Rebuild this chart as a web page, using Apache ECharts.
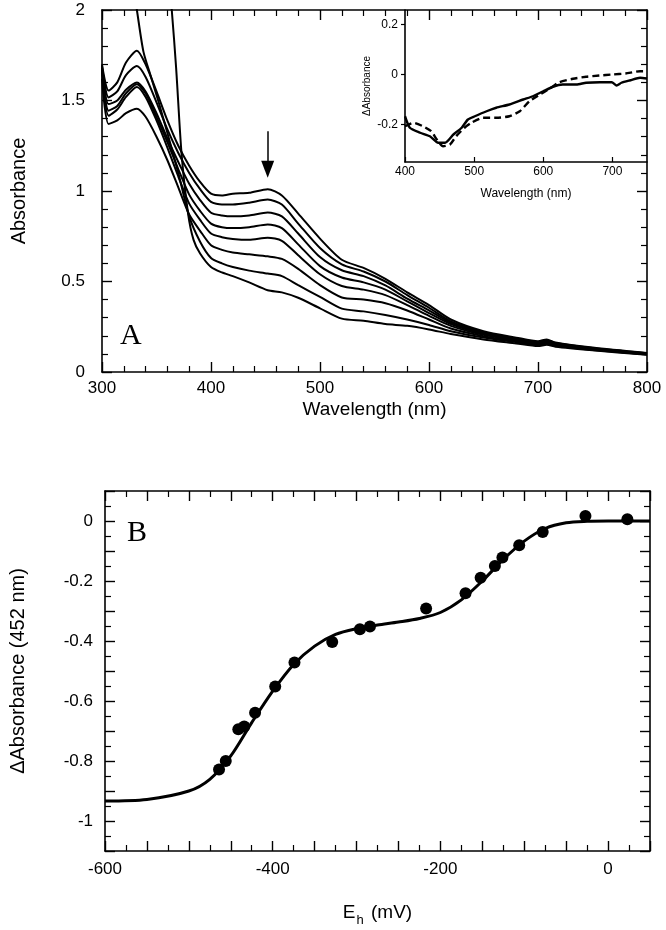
<!DOCTYPE html>
<html><head><meta charset="utf-8">
<script src="https://cdn.jsdelivr.net/npm/echarts@6/dist/echarts.min.js"></script>
<style>html,body{margin:0;padding:0;background:#fff}#c{width:666px;height:930px}</style>
</head><body><div id="c"></div>
<script>
// ---------- Panel A: spectra ----------
const W = [300,306,314,322,332,340,350,360,370,380,390,400,410,420,435,452,465,480,500,520,540,560,580,600,620,650,680,700,708,716,750,800];
const C1 = [1.70,1.555,1.60,1.71,1.775,1.70,1.55,1.39,1.25,1.14,1.05,0.985,0.975,0.985,0.99,1.01,0.975,0.875,0.737,0.62,0.575,0.515,0.44,0.37,0.29,0.225,0.19,0.17,0.18,0.163,0.135,0.105];
const C2 = [1.69,1.517,1.55,1.64,1.69,1.63,1.49,1.34,1.21,1.10,1.01,0.94,0.925,0.925,0.935,0.953,0.925,0.82,0.685,0.595,0.555,0.50,0.425,0.355,0.28,0.22,0.185,0.165,0.175,0.16,0.132,0.103];
const C3 = [1.68,1.48,1.50,1.56,1.60,1.55,1.43,1.29,1.16,1.04,0.95,0.88,0.865,0.86,0.865,0.881,0.86,0.765,0.635,0.562,0.53,0.478,0.405,0.34,0.272,0.215,0.182,0.163,0.172,0.158,0.13,0.102];
const C4 = [1.67,1.444,1.47,1.54,1.59,1.54,1.41,1.27,1.12,0.98,0.89,0.82,0.80,0.795,0.80,0.815,0.795,0.705,0.585,0.522,0.495,0.455,0.39,0.325,0.265,0.21,0.178,0.16,0.168,0.155,0.128,0.1];
const C5 = [1.66,1.416,1.45,1.52,1.575,1.52,1.39,1.24,1.08,0.93,0.84,0.765,0.745,0.735,0.73,0.742,0.725,0.645,0.54,0.475,0.455,0.425,0.37,0.31,0.255,0.205,0.175,0.157,0.165,0.152,0.126,0.099];
const C6 = [1.62,1.37,1.39,1.43,1.455,1.41,1.30,1.17,1.02,0.87,0.78,0.70,0.675,0.66,0.65,0.639,0.625,0.57,0.48,0.412,0.40,0.38,0.34,0.29,0.24,0.198,0.17,0.153,0.16,0.149,0.124,0.098];
const W7 = [328,332,338,345,352,360,370,380,390,400,410,420,435,452,465,480,500,520,540,560,580,600,620,650,680,700,708,716,750,800];
const C7 = [2.15,2.0,1.77,1.63,1.49,1.32,1.10,0.86,0.72,0.63,0.60,0.58,0.56,0.544,0.53,0.48,0.415,0.35,0.335,0.315,0.29,0.26,0.225,0.19,0.165,0.148,0.155,0.145,0.122,0.097];
const W8 = [362,364,368,373,379,384,390,400,410,420,435,452,465,480,500,520,540,560,580,600,620,650,680,700,708,716,750,800];
const C8 = [2.1,2.0,1.68,1.205,0.874,0.73,0.655,0.58,0.55,0.53,0.495,0.452,0.44,0.41,0.352,0.295,0.283,0.265,0.255,0.235,0.21,0.18,0.158,0.143,0.15,0.14,0.12,0.095];
const ARROW_NM = 452, ARROW_FROM = 1.33, ARROW_TO = 1.12;

// ---------- Inset: difference spectra ----------
const IW_SOLID = [400,407,422,436,448,458,470,482,491,501,518,532,551,571,585,600,614,628,648,662,682,699,706,713,726,740,750];
const I_SOLID = [-0.167,-0.213,-0.233,-0.247,-0.273,-0.273,-0.24,-0.213,-0.18,-0.167,-0.147,-0.133,-0.12,-0.10,-0.087,-0.067,-0.049,-0.04,-0.04,-0.033,-0.031,-0.031,-0.044,-0.033,-0.023,-0.013,-0.016];
const IW_DASH = [400,412,426,438,446,455,465,474,486,496,513,532,551,566,580,595,609,623,643,662,681,700,719,740,750];
const I_DASH = [-0.207,-0.193,-0.207,-0.227,-0.26,-0.287,-0.28,-0.247,-0.213,-0.193,-0.173,-0.173,-0.167,-0.147,-0.107,-0.08,-0.057,-0.031,-0.017,-0.009,-0.004,0,0.004,0.013,0.013];
const INSET_X_TICKS = [400,500,600,700];
const INSET_Y_TICKS = [-0.2,0,0.2];

// ---------- Panel B: titration ----------
const PT_E = [-464,-456,-441,-434,-421,-397,-374,-329,-296,-284,-217,-170,-152,-135,-126,-106,-78,-27,23];
const PT_A = [-0.828,-0.80,-0.694,-0.685,-0.639,-0.552,-0.472,-0.403,-0.361,-0.352,-0.292,-0.241,-0.189,-0.150,-0.122,-0.081,-0.037,0.017,0.006];
const FIT_E = [-600,-550,-500,-475,-450,-425,-400,-375,-350,-325,-300,-275,-250,-225,-200,-175,-150,-125,-100,-75,-50,-25,0,50];
const FIT_A = [-0.933,-0.928,-0.90,-0.861,-0.783,-0.672,-0.567,-0.478,-0.417,-0.378,-0.359,-0.347,-0.337,-0.325,-0.305,-0.263,-0.20,-0.128,-0.067,-0.025,-0.006,-0.001,0,0];

// ---------- build ----------
const FONT = '"Liberation Sans", Arial, Helvetica, sans-serif';
const K = '#000';
const pairs = (xs, ys) => xs.map((x, i) => [x, ys[i]]);
const line = {show: true, onZero: false, lineStyle: {color: K, width: 1.6}};
const tick = (len) => ({show: true, inside: true, length: len, lineStyle: {color: K, width: 1.4}});
const minor = (n, len) => ({show: true, splitNumber: n, length: len, lineStyle: {color: K, width: 1.2}});
const noSplit = {show: false};
const lbl = (o) => Object.assign({color: K, fontSize: 17, fontFamily: FONT}, o);

const chart = echarts.init(document.getElementById('c'), null, {renderer: 'canvas'});

const spectra = [[W, C1], [W, C2], [W, C3], [W, C4], [W, C5], [W, C6], [W7, C7], [W8, C8]];
const series = spectra.map(([xs, ys], i) => {
  const s = {
    type: 'line', xAxisIndex: 0, yAxisIndex: 0, data: pairs(xs, ys),
    showSymbol: false, smooth: 0.25, clip: true, silent: true,
    lineStyle: {color: K, width: 2}
  };
  if (i === 0) {
    s.markLine = {
      silent: true, symbol: ['none', 'triangle'], symbolSize: [13, 17],
      label: {show: false}, lineStyle: {color: K, width: 1.5, type: 'solid'},
      itemStyle: {color: K},
      data: [[{coord: [ARROW_NM, ARROW_FROM]}, {coord: [ARROW_NM, ARROW_TO]}]]
    };
  }
  return s;
});
series.push({type: 'line', xAxisIndex: 2, yAxisIndex: 2, data: pairs(IW_SOLID, I_SOLID),
  showSymbol: false, smooth: 0.2, silent: true, lineStyle: {color: K, width: 2.4}});
series.push({type: 'line', xAxisIndex: 2, yAxisIndex: 2, data: pairs(IW_DASH, I_DASH),
  showSymbol: false, smooth: 0.2, silent: true, lineStyle: {color: K, width: 2.4, type: [7, 4]}});
series.push({type: 'line', xAxisIndex: 3, yAxisIndex: 3, data: pairs(FIT_E, FIT_A),
  showSymbol: false, smooth: 0.3, silent: true, lineStyle: {color: K, width: 3}});
series.push({type: 'scatter', xAxisIndex: 3, yAxisIndex: 3, data: pairs(PT_E, PT_A),
  symbol: 'circle', symbolSize: 12, silent: true, itemStyle: {color: K, opacity: 1}});

const option = {
  animation: false,
  backgroundColor: '#fff',
  textStyle: {fontFamily: FONT, color: K},
  grid: [
    {left: 102, top: 10, width: 545, height: 362},
    {left: 405, top: 10, width: 242, height: 152},
    {left: 104, top: 491, width: 546, height: 360}
  ],
  xAxis: [
    {gridIndex: 0, type: 'value', position: 'bottom', min: 300, max: 800, interval: 100,
      axisLine: line, axisTick: tick(10), minorTick: minor(5, 6), splitLine: noSplit, minorSplitLine: noSplit,
      axisLabel: lbl({margin: 8}),
      name: 'Wavelength (nm)', nameLocation: 'middle', nameGap: 28,
      nameTextStyle: {color: K, fontSize: 19, fontFamily: FONT}},
    {gridIndex: 0, type: 'value', position: 'top', min: 300, max: 800, interval: 100,
      axisLine: line, axisTick: tick(10), minorTick: minor(5, 6), splitLine: noSplit, axisLabel: {show: false}},
    {gridIndex: 1, type: 'value', position: 'bottom', min: 400, max: 750,
      axisLine: line, axisTick: {show: true, inside: true, length: 5, customValues: INSET_X_TICKS, lineStyle: {color: K, width: 1.2}},
      splitLine: noSplit,
      axisLabel: lbl({fontSize: 12, margin: 4, customValues: INSET_X_TICKS}),
      name: 'Wavelength (nm)', nameLocation: 'middle', nameGap: 26,
      nameTextStyle: {color: K, fontSize: 12, fontFamily: FONT}},
    {gridIndex: 2, type: 'value', position: 'bottom', min: -600, max: 50, interval: 50,
      axisLine: line, axisTick: tick(10), minorTick: minor(2, 6), splitLine: noSplit, minorSplitLine: noSplit,
      axisLabel: lbl({margin: 10, formatter: v => (Math.round(v) % 200 === 0 ? String(Math.round(v)) : '')}),
      name: 'E{h|h} (mV)', nameLocation: 'middle', nameGap: 47,
      nameTextStyle: {color: K, fontSize: 19, fontFamily: FONT,
        rich: {h: {fontSize: 13, fontFamily: FONT, color: K, padding: [16, 2, 0, 1]}}}},
    {gridIndex: 2, type: 'value', position: 'top', min: -600, max: 50, interval: 50,
      axisLine: line, axisTick: tick(10), minorTick: minor(2, 6), splitLine: noSplit, axisLabel: {show: false}}
  ],
  yAxis: [
    {gridIndex: 0, type: 'value', position: 'left', min: 0, max: 2, interval: 0.5,
      axisLine: line, axisTick: tick(10), minorTick: minor(5, 6), splitLine: noSplit, minorSplitLine: noSplit,
      axisLabel: lbl({margin: 17}),
      name: 'Absorbance', nameLocation: 'middle', nameGap: 73,
      nameTextStyle: {color: K, fontSize: 20, fontFamily: FONT}},
    {gridIndex: 0, type: 'value', position: 'right', min: 0, max: 2, interval: 0.5,
      axisLine: line, axisTick: tick(10), minorTick: minor(5, 6), splitLine: noSplit, axisLabel: {show: false}},
    {gridIndex: 1, type: 'value', position: 'left', min: -0.35, max: 0.258,
      axisLine: line, axisTick: {show: true, inside: false, length: 4, customValues: INSET_Y_TICKS, lineStyle: {color: K, width: 1.2}},
      splitLine: noSplit,
      axisLabel: lbl({fontSize: 12, margin: 7, customValues: INSET_Y_TICKS}),
      name: 'ΔAbsorbance', nameLocation: 'middle', nameGap: 33,
      nameTextStyle: {color: K, fontSize: 10, fontFamily: FONT}},
    {gridIndex: 2, type: 'value', position: 'left', min: -1.1, max: 0.1, interval: 0.1,
      axisLine: line, axisTick: tick(10), minorTick: minor(2, 6), splitLine: noSplit, minorSplitLine: noSplit,
      axisLabel: lbl({margin: 12, formatter: v => { const k = Math.round(v * 10); return k % 2 === 0 ? String(k / 10) : ''; }}),
      name: 'ΔAbsorbance (452 nm)', nameLocation: 'middle', nameGap: 77,
      nameTextStyle: {color: K, fontSize: 20, fontFamily: FONT}},
    {gridIndex: 2, type: 'value', position: 'right', min: -1.1, max: 0.1, interval: 0.1,
      axisLine: line, axisTick: tick(10), minorTick: minor(2, 6), splitLine: noSplit, axisLabel: {show: false}}
  ],
  graphic: [
    {type: 'text', left: 120, top: 321, style: {text: 'A', font: '30px "Liberation Serif", "Times New Roman", serif', fill: K}},
    {type: 'text', left: 127, top: 518, style: {text: 'B', font: '30px "Liberation Serif", "Times New Roman", serif', fill: K}}
  ],
  series: series
};
chart.setOption(option);
</script>
</body></html>
